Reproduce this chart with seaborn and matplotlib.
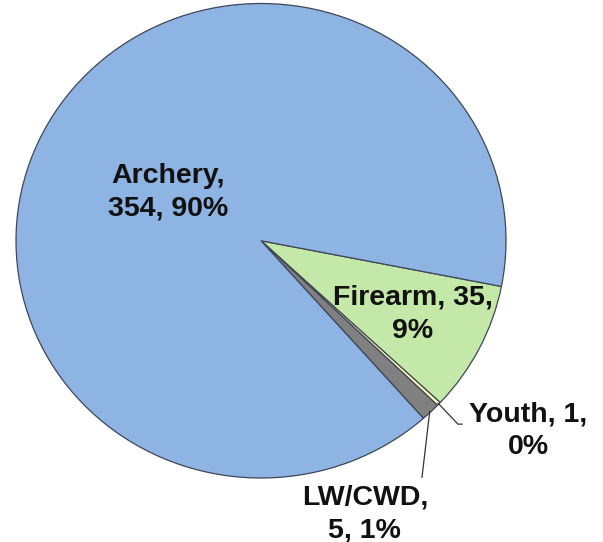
import numpy as np
import matplotlib
matplotlib.use("Agg")
import matplotlib.pyplot as plt
import seaborn as sns

categories = ["Firearm", "Youth", "LW/CWD", "Archery"]
values = [35, 1, 5, 354]
percents = ["9%", "0%", "1%", "90%"]
colors = ["#C4E8A8", "#FFFFB3", "#808080", "#8EB4E3"]

sns.set_theme(style="white")
plt.rcParams["font.family"] = ["Liberation Sans", "DejaVu Sans"]

fig = plt.figure(figsize=(6.03, 5.42), dpi=100)
ax = fig.add_axes([16 / 603, (542 - 478) / 542, 490 / 603, 474.5 / 542])

start = -11.1
wedges, _ = ax.pie(values, colors=colors, startangle=start, counterclock=False,
                   radius=1.0, center=(0, 0),
                   wedgeprops=dict(edgecolor="#3F4657", linewidth=0.9))
ax.set_aspect("auto")
ax.set_xlim(-1, 1)
ax.set_ylim(-1, 1)
ax.axis("off")

fs = 20.5
tkw = dict(ha="center", va="center", fontsize=fs, fontweight="bold", color="#111111",
           linespacing=1.35)
labels = {
    "Archery": (f"Archery,\n{values[3]}, {percents[3]}", (-0.38, 0.205)),
    "Firearm": (f"Firearm, {values[0]},\n{percents[0]}", (0.62, -0.31)),
    "Youth": (f"Youth, {values[1]},\n{percents[1]}", (1.09, -0.80)),
    "LW/CWD": (f"LW/CWD,\n{values[2]}, {percents[2]}", (0.424, -1.15)),
}
for name, (txt, pos) in labels.items():
    ax.text(pos[0], pos[1], txt, clip_on=False, **tkw)

# leader lines from wedge mid-angles
def mid_point(w, r=1.0):
    ang = np.deg2rad((w.theta1 + w.theta2) / 2)
    return r * np.cos(ang), r * np.sin(ang)

yx, yy = mid_point(wedges[1], 0.995)
ax.plot([yx, 0.804, 0.822], [yy, -0.773, -0.773], color="#333333", lw=0.9,
        clip_on=False)
lx, ly = mid_point(wedges[2], 0.995)
ax.plot([lx, 0.657], [ly, -0.998], color="#333333", lw=0.9, clip_on=False)

fig.savefig("out.png", dpi=100, facecolor="white")
